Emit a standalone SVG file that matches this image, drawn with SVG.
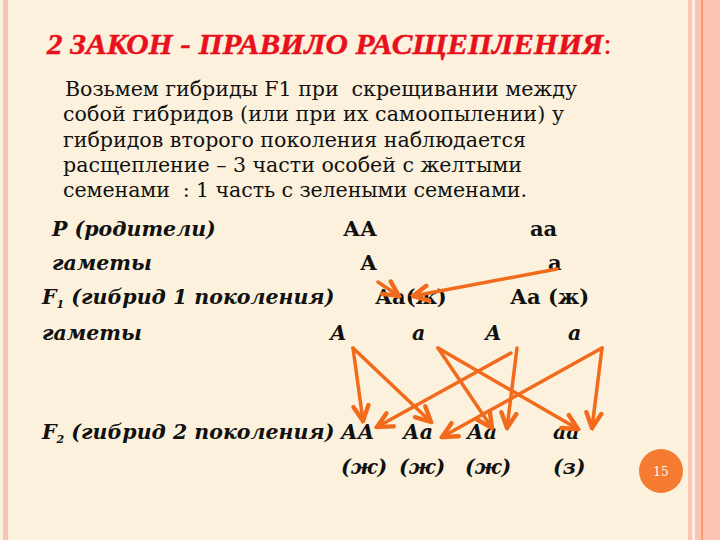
<svg xmlns="http://www.w3.org/2000/svg" width="720" height="540" viewBox="0 0 720 540">
<style>
.body{font-family:"DejaVu Serif","Liberation Serif",serif;font-size:20.6px;fill:#111;white-space:pre}
.bi{font-family:"DejaVu Serif","Liberation Serif",serif;font-size:20.5px;font-weight:bold;font-style:italic;fill:#111}
.b{font-family:"DejaVu Serif","Liberation Serif",serif;font-size:21px;font-weight:bold;fill:#111}
.title{font-family:"Liberation Serif","DejaVu Serif",serif;font-size:29px;font-weight:bold;font-style:italic;fill:#e8101c;stroke:#e8101c;stroke-width:0.5}
.arrow{stroke:#f26a1b;stroke-width:3.5;fill:none;stroke-linecap:round;marker-end:url(#head)}
</style>
<defs>
<marker id="head" markerUnits="userSpaceOnUse" markerWidth="20" markerHeight="20" viewBox="-14 -8 16 16" refX="0" refY="0" orient="auto">
<path d="M -12 -6 L 0 0 L -12 6" fill="none" stroke="#f26a1b" stroke-width="3.5" stroke-linecap="round" stroke-linejoin="miter"/>
</marker>
</defs>
<rect x="0" y="0" width="720" height="540" fill="#fbf1dc"/>
<g id="frame">
<rect x="3" y="0" width="5" height="540" fill="#f9c3b1"/>
<rect x="688" y="0" width="32" height="540" fill="#fbc4b4"/>
<rect x="692" y="0" width="3" height="540" fill="#fdf0dc"/>
<rect x="701.5" y="0" width="1.3" height="540" fill="#f08a55"/>
</g>
<g id="title">
<text x="47" y="54" class="title" textLength="565" lengthAdjust="spacingAndGlyphs">2 ЗАКОН - ПРАВИЛО РАСЩЕПЛЕНИЯ<tspan font-style="normal" font-weight="normal" stroke="none">:</tspan></text>
</g>
<g id="paragraph">
<text x="65" y="96" class="body" xml:space="preserve" textLength="512">Возьмем гибриды F1 при  скрещивании между</text>
<text x="63" y="121" class="body" textLength="501">собой гибридов (или при их самоопылении) у</text>
<text x="63" y="147" class="body" textLength="463">гибридов второго поколения наблюдается</text>
<text x="63" y="172" class="body" textLength="459">расщепление – 3 части особей с желтыми</text>
<text x="63" y="197" class="body" xml:space="preserve" textLength="464">семенами  : 1 часть с зелеными семенами.</text>
</g>
<g id="row-parents">
<text x="52" y="236" class="bi">P (родители)</text>
<text x="343" y="236" class="b">АА</text>
<text x="530" y="236" class="b">аа</text>
</g>
<g id="row-gametes1">
<text x="52" y="270" class="bi">гаметы</text>
<text x="360" y="270" class="b">А</text>
<text x="548" y="270" class="b">а</text>
</g>
<g id="row-f1">
<text x="42" y="304" class="bi">F<tspan font-size="11" dy="4">1</tspan><tspan dy="-4"> (гибрид 1 поколения)</tspan></text>
<text x="375" y="304" class="b">Аа(ж)</text>
<text x="510" y="304" class="b">Аа (ж)</text>
</g>
<g id="row-gametes2">
<text x="42" y="340" class="bi">гаметы</text>
<text x="330" y="340" class="bi">А</text>
<text x="412" y="340" class="bi">а</text>
<text x="485" y="340" class="bi">А</text>
<text x="568" y="340" class="bi">а</text>
</g>
<g id="row-f2">
<text x="42" y="439" class="bi">F<tspan font-size="11" dy="4">2</tspan><tspan dy="-4"> (гибрид 2 поколения)</tspan></text>
<text x="341" y="439" class="bi">АА</text>
<text x="403" y="439" class="bi">Аа</text>
<text x="467" y="439" class="bi">Аа</text>
<text x="553" y="439" class="bi">аа</text>
</g>
<g id="row-phenotypes">
<text x="341" y="474" class="bi">(ж)</text>
<text x="399" y="474" class="bi">(ж)</text>
<text x="465" y="474" class="bi">(ж)</text>
<text x="553" y="474" class="bi">(з)</text>
</g>
<g id="connectors">
<line class="arrow" x1="378" y1="282" x2="399" y2="296"/>
<line class="arrow" x1="557" y1="269" x2="413" y2="296"/>
<line class="arrow" x1="353" y1="348" x2="363" y2="421"/>
<line class="arrow" x1="353" y1="348" x2="431" y2="422"/>
<line class="arrow" x1="438" y1="348" x2="492" y2="428"/>
<line class="arrow" x1="438" y1="348" x2="578" y2="429"/>
<line class="arrow" x1="511" y1="353" x2="377" y2="427"/>
<line class="arrow" x1="517" y1="348" x2="507" y2="428"/>
<line class="arrow" x1="602" y1="348" x2="442" y2="437"/>
<line class="arrow" x1="602" y1="348" x2="592" y2="428"/>
</g>
<g id="page-number">
<circle cx="661" cy="471" r="22" fill="#f47b2f"/>
<text x="661" y="476" text-anchor="middle" font-family="DejaVu Serif, serif" font-size="12" fill="#fff8ee">15</text>
</g>
</svg>
